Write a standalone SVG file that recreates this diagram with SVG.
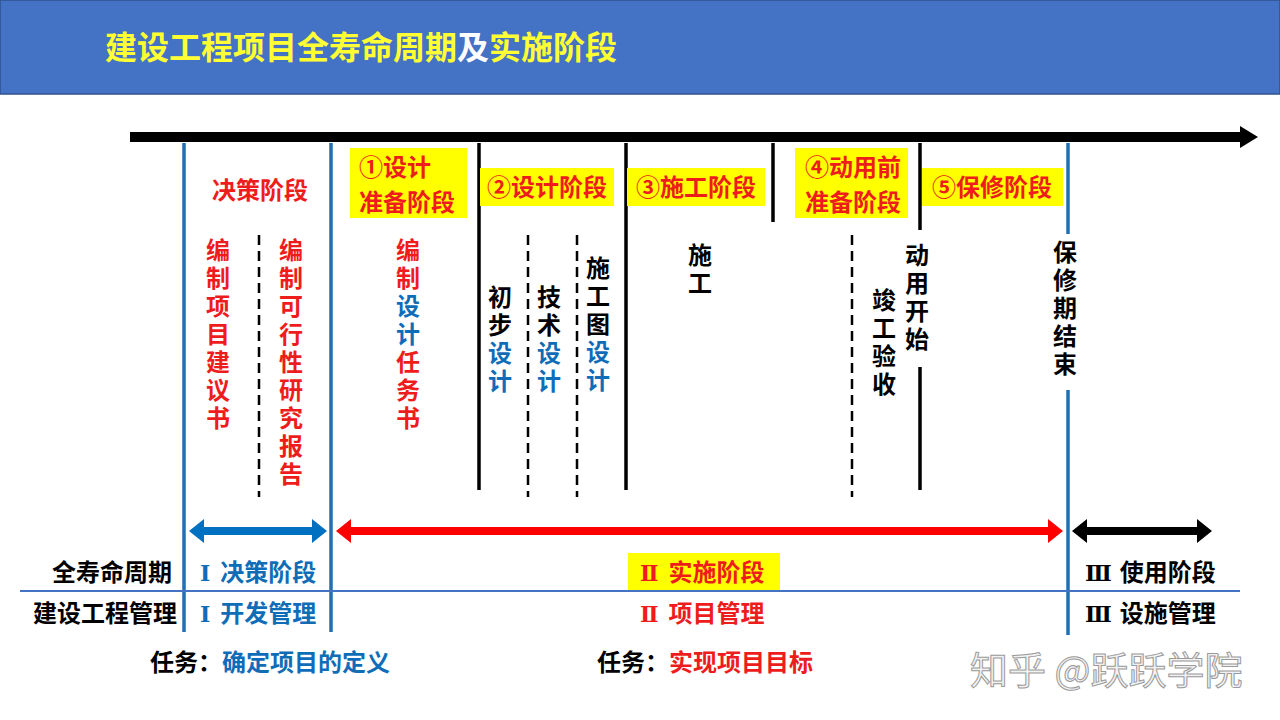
<svg xmlns="http://www.w3.org/2000/svg" width="1280" height="720" viewBox="0 0 1280 720">
<defs>
<style>
text{font-family:"Noto Sans CJK SC","Noto Sans",sans-serif;font-weight:700;}
.t24{font-size:24px;}
.vt{font-size:24px;writing-mode:vertical-rl;letter-spacing:4px;}
.rn{font-family:"DejaVu Serif","Liberation Serif",serif;font-size:22px;}
.red{fill:#EE1C1C;}
.blue{fill:#0F6DB8;}
.blk{fill:#000;}
.ybox{fill:#FFFF00;}
.vblue{stroke:#1F6FB5;stroke-width:3.5;fill:none;}
.vblk{stroke:#000;stroke-width:3.5;fill:none;}
.dash{stroke:#000;stroke-width:2.5;stroke-dasharray:10,6;fill:none;}
</style>
</defs>
<rect x="0" y="0" width="1280" height="720" fill="#fff"/>
<g id="header">
<rect x="0" y="0" width="1280" height="94" fill="#4472C4" stroke="#2F528F" stroke-width="1.5"/>
<text x="105" y="59" font-size="32" fill="#FFFF33">建设工程项目全寿命周期<tspan fill="#FFFFFF">及</tspan>实施阶段</text>
</g>
<g id="connectors">
<line x1="130" y1="137" x2="1242" y2="137" stroke="#000" stroke-width="10"/>
<polygon points="1240,126 1258,137 1240,148" fill="#000"/>
<line class="vblue" x1="184" y1="143" x2="184" y2="632"/>
<line class="vblue" x1="331" y1="143" x2="331" y2="632"/>
<line class="vblue" x1="1068" y1="143" x2="1068" y2="234"/>
<line class="vblue" x1="1068" y1="390" x2="1068" y2="635"/>
<line class="vblk" x1="479" y1="143" x2="479" y2="490"/>
<line class="vblk" x1="626" y1="143" x2="626" y2="490"/>
<line class="vblk" x1="773" y1="143" x2="773" y2="222"/>
<line class="vblk" x1="920" y1="143" x2="920" y2="230"/>
<line class="vblk" x1="920" y1="367" x2="920" y2="490"/>
<line class="dash" x1="259" y1="235" x2="259" y2="497"/>
<line class="dash" x1="528" y1="235" x2="528" y2="497"/>
<line class="dash" x1="577" y1="235" x2="577" y2="497"/>
<line class="dash" x1="852" y1="235" x2="852" y2="497"/>
<line x1="20" y1="591" x2="1240" y2="591" stroke="#4472C4" stroke-width="2"/>
<polygon points="189,531 204,519 204,527 312,527 312,519 327,531 312,543 312,535 204,535 204,543" fill="#0070C0"/>
<polygon points="336,531 351,519 351,527 1048,527 1048,519 1063,531 1048,543 1048,535 351,535 351,543" fill="#FF0000"/>
<polygon points="1072,531 1087,519 1087,527 1197,527 1197,519 1212,531 1197,543 1197,535 1087,535 1087,543" fill="#000"/>
</g>
<g id="stage-decision">
<text class="t24 red" x="260" y="199" text-anchor="middle">决策阶段</text>
</g>
<g id="stage1">
<rect class="ybox" x="350" y="148" width="117" height="70"/>
<text class="t24 red"><tspan x="359" y="176">①设计</tspan><tspan x="359" dy="35">准备阶段</tspan></text>
</g>
<g id="stage2">
<rect class="ybox" x="480" y="168" width="134" height="38"/>
<text class="t24 red" x="547" y="196" text-anchor="middle">②设计阶段</text>
</g>
<g id="stage3">
<rect class="ybox" x="627" y="168" width="138" height="38"/>
<text class="t24 red" x="696" y="196" text-anchor="middle">③施工阶段</text>
</g>
<g id="stage4">
<rect class="ybox" x="795" y="148" width="113" height="70"/>
<text class="t24 red"><tspan x="805" y="176">④动用前</tspan><tspan x="805" dy="35">准备阶段</tspan></text>
</g>
<g id="stage5">
<rect class="ybox" x="922" y="168" width="141" height="38"/>
<text class="t24 red" x="992" y="196" text-anchor="middle">⑤保修阶段</text>
</g>
<g id="v-proposal">
<text class="vt red" x="218" y="238">编制项目建议书</text>
</g>
<g id="v-feasibility">
<text class="vt red" x="291" y="238">编制可行性研究报告</text>
</g>
<g id="v-design-brief">
<text class="vt red" x="408" y="238">编制<tspan class="blue">设计</tspan>任务书</text>
</g>
<g id="v-prelim">
<text class="vt blk" x="500" y="285">初步<tspan class="blue">设计</tspan></text>
</g>
<g id="v-tech">
<text class="vt blk" x="549" y="285">技术<tspan class="blue">设计</tspan></text>
</g>
<g id="v-drawing">
<text class="vt blk" x="598" y="256">施工图<tspan class="blue">设计</tspan></text>
</g>
<g id="v-construction">
<text class="vt blk" x="700" y="243">施工</text>
</g>
<g id="v-acceptance">
<text class="vt blk" x="884" y="288">竣工验收</text>
</g>
<g id="v-start-use">
<text class="vt blk" x="917" y="243">动用开始</text>
</g>
<g id="v-warranty-end">
<text class="vt blk" x="1065" y="240">保修期结束</text>
</g>
<g id="row-labels">
<text class="t24 blk" x="172" y="581" text-anchor="end">全寿命周期</text>
<text class="t24 blk" x="177" y="622" text-anchor="end">建设工程管理</text>
</g>
<g id="phase1">
<text class="t24 blue" x="200" y="581"><tspan class="rn">Ⅰ</tspan><tspan dx="10">决策阶段</tspan></text>
<text class="t24 blue" x="200" y="622"><tspan class="rn">Ⅰ</tspan><tspan dx="10">开发管理</tspan></text>
<text class="t24 blk" x="150" y="671">任务：<tspan class="blue">确定项目的定义</tspan></text>
</g>
<g id="phase2">
<rect class="ybox" x="628" y="553" width="152" height="37"/>
<text class="t24 red" x="640" y="581"><tspan class="rn">Ⅱ</tspan><tspan dx="10">实施阶段</tspan></text>
<text class="t24 red" x="640" y="622"><tspan class="rn">Ⅱ</tspan><tspan dx="10">项目管理</tspan></text>
<text class="t24 blk" x="597" y="671">任务：<tspan class="red">实现项目目标</tspan></text>
</g>
<g id="phase3">
<text class="t24 blk" x="1085" y="581"><tspan class="rn">Ⅲ</tspan><tspan dx="8">使用阶段</tspan></text>
<text class="t24 blk" x="1085" y="622"><tspan class="rn">Ⅲ</tspan><tspan dx="8">设施管理</tspan></text>
</g>
<g id="watermark">
<text x="970" y="684" font-size="38" style="font-weight:400" fill="#f2f2f2" stroke="#9a9a9a" stroke-width="1">知乎 @跃跃学院</text>
</g>
</svg>
